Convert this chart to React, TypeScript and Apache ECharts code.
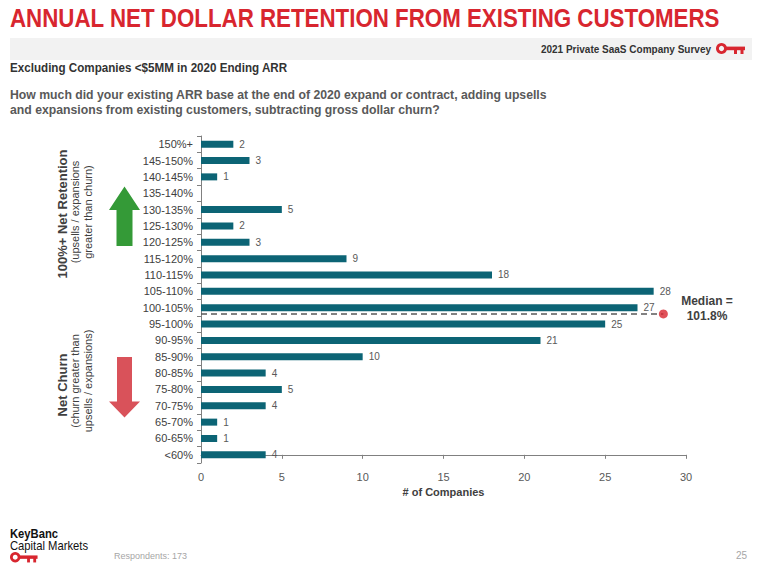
import React, { useEffect, useRef } from "react";
import * as echarts from "echarts";

const categories = [
  "<60%", "60-65%", "65-70%", "70-75%", "75-80%", "80-85%", "85-90%", "90-95%",
  "95-100%", "100-105%", "105-110%", "110-115%", "115-120%", "120-125%", "125-130%",
  "130-135%", "135-140%", "140-145%", "145-150%", "150%+",
];
const companies = [4, 1, 1, 4, 5, 4, 10, 21, 25, 27, 28, 18, 9, 3, 2, 5, 0, 1, 3, 2];
const xTicks = [0, 5, 10, 15, 20, 25, 30];
const medianLabel = "101.8%";
const medianRow = 8.62; // position between 95-100% and 100-105% rows
const medianLineEnd = 28.6; // x value where the dashed median line ends
const respondents = 173;

const FONT = "'Liberation Sans', Arial, sans-serif";
const RED = "#d8262f";
const BAR = "#0c6475";

function keyLogo(x: number, y: number, s: number) {
  return {
    type: "group",
    x,
    y,
    scaleX: s,
    scaleY: s,
    children: [
      { type: "ring", shape: { cx: 5.5, cy: 5.5, r: 5.5, r0: 2.6 }, style: { fill: RED } },
      { type: "rect", shape: { x: 10, y: 3.6, width: 19, height: 3.6 }, style: { fill: RED } },
      { type: "rect", shape: { x: 18, y: 6, width: 3, height: 5 }, style: { fill: RED } },
      { type: "rect", shape: { x: 24.5, y: 6, width: 3, height: 5 }, style: { fill: RED } },
    ],
  };
}

function txt(x: number, y: number, text: string, o: any = {}) {
  const { rotation, scaleX, ...style } = o;
  return {
    type: "text",
    x,
    y,
    rotation: rotation || 0,
    scaleX: scaleX || 1,
    style: {
      text,
      fontFamily: FONT,
      fontSize: 12,
      fill: "#404040",
      align: "left",
      verticalAlign: "middle",
      ...style,
    },
  };
}

export default function App() {
  const ref = useRef<HTMLDivElement>(null);
  useEffect(() => {
    if (!ref.current) return;
    const chart = echarts.init(ref.current, null, { renderer: "svg" });
    const graphic: any[] = [
      txt(10, 19, "ANNUAL NET DOLLAR RETENTION FROM EXISTING CUSTOMERS", {
        fontSize: 25, fontWeight: "bold", fill: RED, scaleX: 0.893,
      }),
      { type: "rect", shape: { x: 10, y: 38, width: 742, height: 22 }, style: { fill: "#f2f2f2" } },
      txt(711, 49, "2021 Private SaaS Company Survey", { fontSize: 10, fontWeight: "bold", align: "right", fill: "#333" }),
      keyLogo(716, 43, 1),
      txt(10, 68, "Excluding Companies <$5MM in 2020 Ending ARR", { fontSize: 12, fontWeight: "bold", fill: "#333", scaleX: 0.97 }),
      txt(10, 95, "How much did your existing ARR base at the end of 2020 expand or contract, adding upsells", {
        fontSize: 12.5, fontWeight: "bold", fill: "#595959", scaleX: 0.98,
      }),
      txt(10, 110, "and expansions from existing customers, subtracting gross dollar churn?", {
        fontSize: 12.5, fontWeight: "bold", fill: "#595959", scaleX: 0.98,
      }),
      // left side annotations
      txt(62.5, 214, "100%+ Net Retention", { fontSize: 13, fontWeight: "bold", align: "center", rotation: Math.PI / 2 }),
      txt(75, 212, "(upsells / expansions", { fontSize: 11, align: "center", rotation: Math.PI / 2, fill: "#404040" }),
      txt(87.5, 212, "greater than churn)", { fontSize: 11, align: "center", rotation: Math.PI / 2, fill: "#404040" }),
      {
        type: "polygon",
        shape: { points: [[124.5, 186.5], [140, 210], [132.5, 210], [132.5, 246], [116.5, 246], [116.5, 210], [109, 210]] },
        style: { fill: "#349a37" },
      },
      txt(62.5, 385, "Net Churn", { fontSize: 13, fontWeight: "bold", align: "center", rotation: Math.PI / 2 }),
      txt(75, 381, "(churn greater than", { fontSize: 11, align: "center", rotation: Math.PI / 2, fill: "#404040" }),
      txt(87.5, 381, "upsells / expansions)", { fontSize: 11, align: "center", rotation: Math.PI / 2, fill: "#404040" }),
      {
        type: "polygon",
        shape: { points: [[117, 357], [132, 357], [132, 401.5], [140, 401.5], [124.5, 417.5], [109, 401.5], [117, 401.5]] },
        style: { fill: "#d9525a" },
      },
      // median label
      txt(707, 301, "Median =", { fontSize: 12, fontWeight: "bold", align: "center", fill: "#404040" }),
      txt(707, 316, medianLabel, { fontSize: 12, fontWeight: "bold", align: "center", fill: "#404040" }),
      // footer
      txt(10, 534, "KeyBanc", { fontSize: 12.5, fontWeight: "bold", fill: "#111", scaleX: 0.9 }),
      txt(10, 546, "Capital Markets", { fontSize: 12.5, fill: "#111", scaleX: 0.9 }),
      keyLogo(10, 552, 0.95),
      txt(114, 556, "Respondents: " + respondents, { fontSize: 9, fill: "#a6a6a6" }),
      txt(747, 555, "25", { fontSize: 10, fill: "#a6a6a6", align: "right" }),
    ];

    chart.setOption({
      animation: false,
      backgroundColor: "#ffffff",
      textStyle: { fontFamily: FONT },
      grid: { left: 201, top: 136, width: 485, height: 327, containLabel: false },
      xAxis: {
        type: "value",
        min: xTicks[0],
        max: xTicks[xTicks.length - 1],
        interval: 5,
        name: "# of Companies",
        nameLocation: "middle",
        nameGap: 23,
        nameTextStyle: { fontSize: 11, fontWeight: "bold", color: "#404040", fontFamily: FONT },
        axisLine: { show: true, lineStyle: { color: "#808080", width: 1 } },
        axisTick: { show: true, length: 4, lineStyle: { color: "#808080" } },
        axisLabel: { fontSize: 11, color: "#595959", margin: 8, fontFamily: FONT },
        splitLine: { show: false },
      },
      yAxis: [
        {
          type: "category",
          data: categories,
          axisLine: { show: true, lineStyle: { color: "#808080", width: 1 } },
          axisTick: { show: true, length: 4, lineStyle: { color: "#808080" } },
          axisLabel: { fontSize: 11, color: "#404040", margin: 8, fontFamily: FONT },
        },
        {
          type: "value",
          min: -0.5,
          max: categories.length - 0.5,
          show: false,
        },
      ],
      series: [
        {
          type: "bar",
          data: companies,
          barWidth: 7,
          itemStyle: { color: BAR },
          label: {
            show: true,
            position: "right",
            distance: 6,
            fontSize: 10,
            color: "#595959",
            fontFamily: FONT,
            formatter: (p: any) => (p.value ? String(p.value) : ""),
          },
        },
        {
          type: "line",
          yAxisIndex: 1,
          data: [[0, medianRow], [medianLineEnd, medianRow]],
          symbol: "none",
          lineStyle: { color: "#595959", width: 1.5, type: [6, 4] },
          z: 5,
        },
        {
          type: "scatter",
          yAxisIndex: 1,
          data: [[medianLineEnd, medianRow]],
          symbol: "circle",
          symbolSize: 9,
          itemStyle: { color: "#d8262f" },
          z: 6,
        },
      ],
      graphic,
    });
    return () => chart.dispose();
  }, []);
  return <div ref={ref} style={{ position: "absolute", left: 0, top: 0, width: 762, height: 568 }} />;
}
